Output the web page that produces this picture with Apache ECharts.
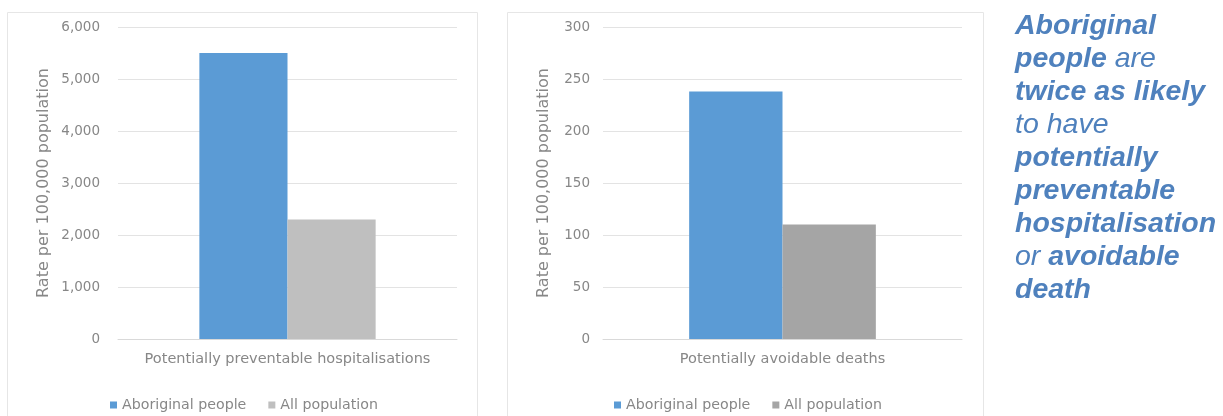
<!DOCTYPE html>
<html>
<head>
<meta charset="utf-8">
<script src="https://cdn.jsdelivr.net/npm/echarts@6/dist/echarts.min.js"></script>
<style>
html,body{margin:0;padding:0;background:#fff;}
#c{width:1223px;height:416px;}
</style>
</head>
<body>
<div id="c"></div>
<script>
// Data
const seriesNames = ['Aboriginal people', 'All population'];
const leftCategory = ['Potentially preventable hospitalisations'];
const leftAboriginal = [5500];
const leftAll = [2300];
const rightCategory = ['Potentially avoidable deaths'];
const rightAboriginal = [238];
const rightAll = [110];
const axisTitle = 'Rate per 100,000 population';

const chart = echarts.init(document.getElementById('c'), null, {renderer: 'canvas'});
const txt = '#878787';
const font = 'DejaVu Sans';
const blue = '#5B9BD5';
const grayL = '#BFBFBF';
const grayR = '#A5A5A5';

function yAxis(gridIndex, max, interval, gap, margin) {
  return {
    type: 'value', gridIndex, min: 0, max, interval,
    name: axisTitle, nameLocation: 'middle', nameGap: gap, nameRotate: 90,
    nameTextStyle: {color: txt, fontFamily: font, fontSize: 16},
    axisLine: {show: false}, axisTick: {show: false},
    axisLabel: {color: txt, fontFamily: font, fontSize: 13.5, margin,
      formatter: v => v.toLocaleString('en-US')},
    splitLine: {lineStyle: {color: '#E3E3E3', width: 1}}
  };
}
function xAxis(gridIndex, data) {
  return {
    type: 'category', gridIndex, data,
    axisLine: {lineStyle: {color: '#D9D9D9'}}, axisTick: {show: false},
    axisLabel: {color: txt, fontFamily: font, fontSize: 14.5, margin: 13}
  };
}

const option = {
  backgroundColor: '#fff',
  animation: false,
  grid: [
    {left: 118, right: 1223 - 457, top: 27, bottom: 77},
    {left: 603, right: 1223 - 962, top: 27, bottom: 77}
  ],
  xAxis: [xAxis(0, leftCategory), xAxis(1, rightCategory)],
  yAxis: [yAxis(0, 6000, 1000, 66, 18), yAxis(1, 300, 50, 51, 13)],
  legend: [
    {left: 105, top: 393, itemWidth: 7, itemHeight: 7, itemGap: 22, icon: 'rect',
     textStyle: {color: txt, fontFamily: font, fontSize: 14.2},
     data: [{name: seriesNames[0], itemStyle: {color: blue}}, {name: seriesNames[1], itemStyle: {color: grayL}}]},
    {left: 609, top: 393, itemWidth: 7, itemHeight: 7, itemGap: 22, icon: 'rect',
     textStyle: {color: txt, fontFamily: font, fontSize: 14.2},
     data: [{name: seriesNames[0], itemStyle: {color: blue}}, {name: seriesNames[1], itemStyle: {color: grayR}}]}
  ],
  series: [
    {name: seriesNames[0], type: 'bar', xAxisIndex: 0, yAxisIndex: 0, data: leftAboriginal,
     itemStyle: {color: blue}, barGap: '0%', barCategoryGap: '48%'},
    {name: seriesNames[1], type: 'bar', xAxisIndex: 0, yAxisIndex: 0, data: leftAll,
     itemStyle: {color: grayL}, barGap: '0%', barCategoryGap: '48%'},
    {name: seriesNames[0], type: 'bar', xAxisIndex: 1, yAxisIndex: 1, data: rightAboriginal,
     itemStyle: {color: blue}, barGap: '0%', barCategoryGap: '48%'},
    {name: seriesNames[1], type: 'bar', xAxisIndex: 1, yAxisIndex: 1, data: rightAll,
     itemStyle: {color: grayR}, barGap: '0%', barCategoryGap: '48%'}
  ],
  graphic: [
    {type: 'rect', shape: {x: 7.5, y: 12.5, width: 470, height: 410}, silent: true, z: -1,
     style: {fill: 'none', stroke: '#E6E6E6', lineWidth: 1}},
    {type: 'rect', shape: {x: 507.5, y: 12.5, width: 476, height: 410}, silent: true, z: -1,
     style: {fill: 'none', stroke: '#E6E6E6', lineWidth: 1}},
    {type: 'text', left: 1015, top: 10, silent: true,
     style: {
       text: '{b|Aboriginal}\n{b|people}{n| are}\n{b|twice as likely}\n{n|to have}\n{b|potentially}\n{b|preventable}\n{b|hospitalisation}\n{n|or }{b|avoidable}\n{b|death}',
       lineHeight: 33,
       rich: {
         b: {fontFamily: 'Liberation Sans', fontSize: 28.5, fontWeight: 'bold', fontStyle: 'italic', fill: '#4F81BD', lineHeight: 33},
         n: {fontFamily: 'Liberation Sans', fontSize: 28.5, fontStyle: 'italic', fill: '#4F81BD', lineHeight: 33}
       }
     }}
  ]
};
chart.setOption(option);
</script>
</body>
</html>
